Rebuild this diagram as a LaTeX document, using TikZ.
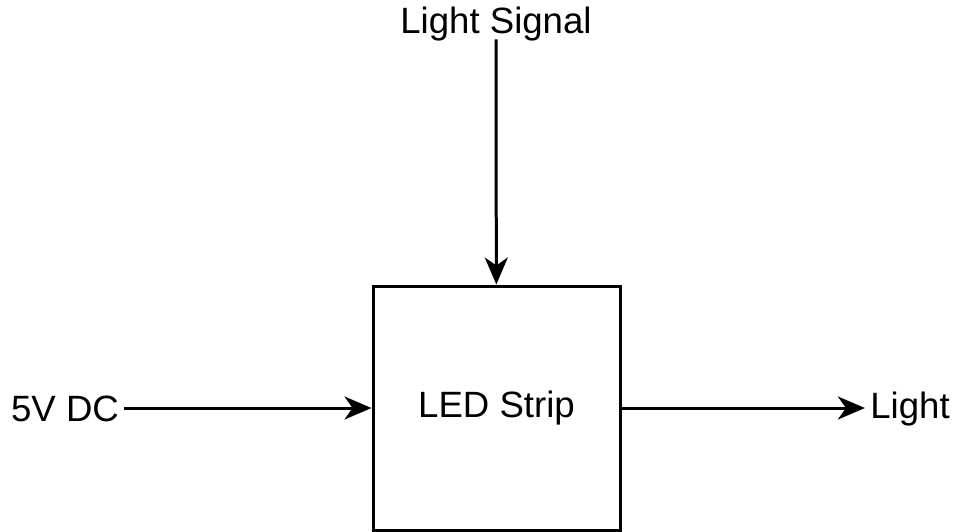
\documentclass[tikz,border=0pt]{standalone}
\usepackage{fontspec}
\setmainfont{Liberation Sans}
\usetikzlibrary{arrows.meta,positioning}

\begin{document}
\begin{tikzpicture}[x=0.5pt,y=-0.5pt,font=\fontsize{18.3}{22}\selectfont,
  box/.style={draw,line width=1.5pt,minimum width=123.5pt,minimum height=122pt,inner sep=0pt},
  lbl/.style={inner sep=2.5pt},
  flow/.style={-{Stealth[length=13.5pt,width=11.5pt,inset=4pt]},line width=1.5pt}]
\useasboundingbox (0,0) rectangle (958,531);
\node[box] (strip) at (496.5,408) {\raisebox{-1.5pt}{LED Strip}};
\node[lbl] (dc) at (65,409) {5V DC};
\node[lbl] (light) at (910,409) {Light};
\node[lbl,inner sep=0pt] (signal) at (496,24) {Light Signal};
\draw[flow] (dc.east |- strip) -- (strip);
\draw[flow] (strip) -- (light.west |- strip);
\draw[flow] ([yshift=1pt]signal.south) -- (strip);
\end{tikzpicture}
\end{document}
